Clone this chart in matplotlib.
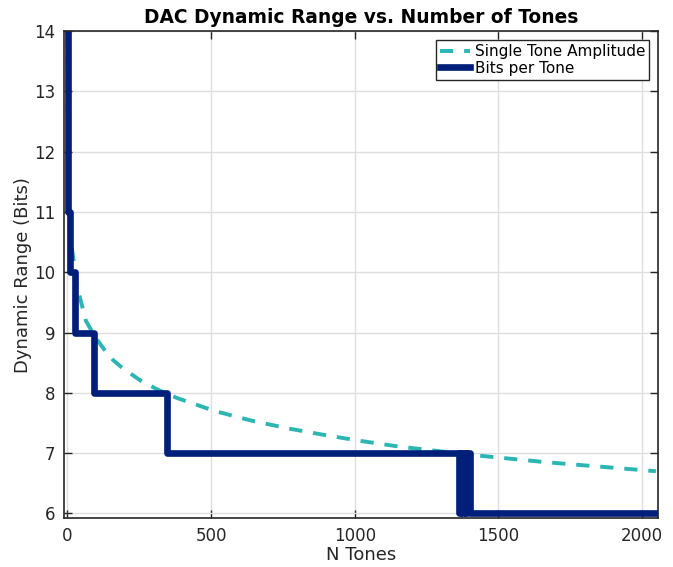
import numpy as np
import matplotlib
matplotlib.use("Agg")
import matplotlib.pyplot as plt

# single tone amplitude (bits)
tone_n = [1, 2, 4, 8, 16, 32, 64, 96, 128, 160, 192, 256, 320, 384, 512, 640,
          768, 896, 1024, 1152, 1280, 1408, 1536, 1664, 1792, 1920, 2048]
tone_amp = [14.0, 11.6, 11.1, 10.7, 10.4, 9.8, 9.2, 8.93, 8.72, 8.54, 8.41, 8.2,
            8.04, 7.91, 7.7, 7.54, 7.41, 7.3, 7.2, 7.11, 7.04, 6.97, 6.91, 6.85,
            6.8, 6.75, 6.7]

# bits per tone (step function)
bits_n = [1, 3, 10, 28, 92, 347, 1363, 1368, 1374, 1380, 1386, 1392, 1401, 2048]
bits = [14, 11, 10, 9, 8, 7, 6, 7, 6, 7, 6, 7, 6, 6]

TEAL = '#2bb6b3'
NAVY = '#001f7a'
DARK = '#262626'

fig = plt.figure(figsize=(6.73, 5.67), dpi=100)
ax = fig.add_axes([0.095, 0.086, 0.883, 0.859])

line, = ax.plot(tone_n, tone_amp, color=TEAL, lw=2.8, label='Single Tone Amplitude',
                dash_capstyle='butt')
line.set_dashes([3.4, 2.8])
ax.plot(bits_n, bits, color=NAVY, lw=4.8, drawstyle='steps-post', label='Bits per Tone')

ax.set_xlim(-12, 2056)
ax.set_ylim(5.92, 14)
ax.set_xticks([0, 500, 1000, 1500, 2000])
ax.set_yticks(np.arange(6, 15, 1))

ax.grid(True, color='#dedede', lw=1.0)
ax.set_axisbelow(True)
ax.tick_params(direction='in', top=True, right=True, length=6, width=1.0,
               labelsize=12, colors=DARK, pad=6)
for s in ax.spines.values():
    s.set_color(DARK)
    s.set_linewidth(1.2)

ax.set_xlabel('N Tones', fontsize=13, color=DARK, labelpad=1)
ax.set_ylabel('Dynamic Range (Bits)', fontsize=13, color=DARK, labelpad=2)
ax.set_title('DAC Dynamic Range vs. Number of Tones', fontsize=13.4, fontweight='bold',
             pad=6)

leg = ax.legend(loc='upper right', fontsize=11, frameon=True, fancybox=False,
                edgecolor=DARK, framealpha=1, borderpad=0.25, labelspacing=0.1,
                handlelength=2.0, handletextpad=0.3, borderaxespad=0.6)
leg.get_frame().set_linewidth(1.0)

fig.savefig('out.png', dpi=100)
